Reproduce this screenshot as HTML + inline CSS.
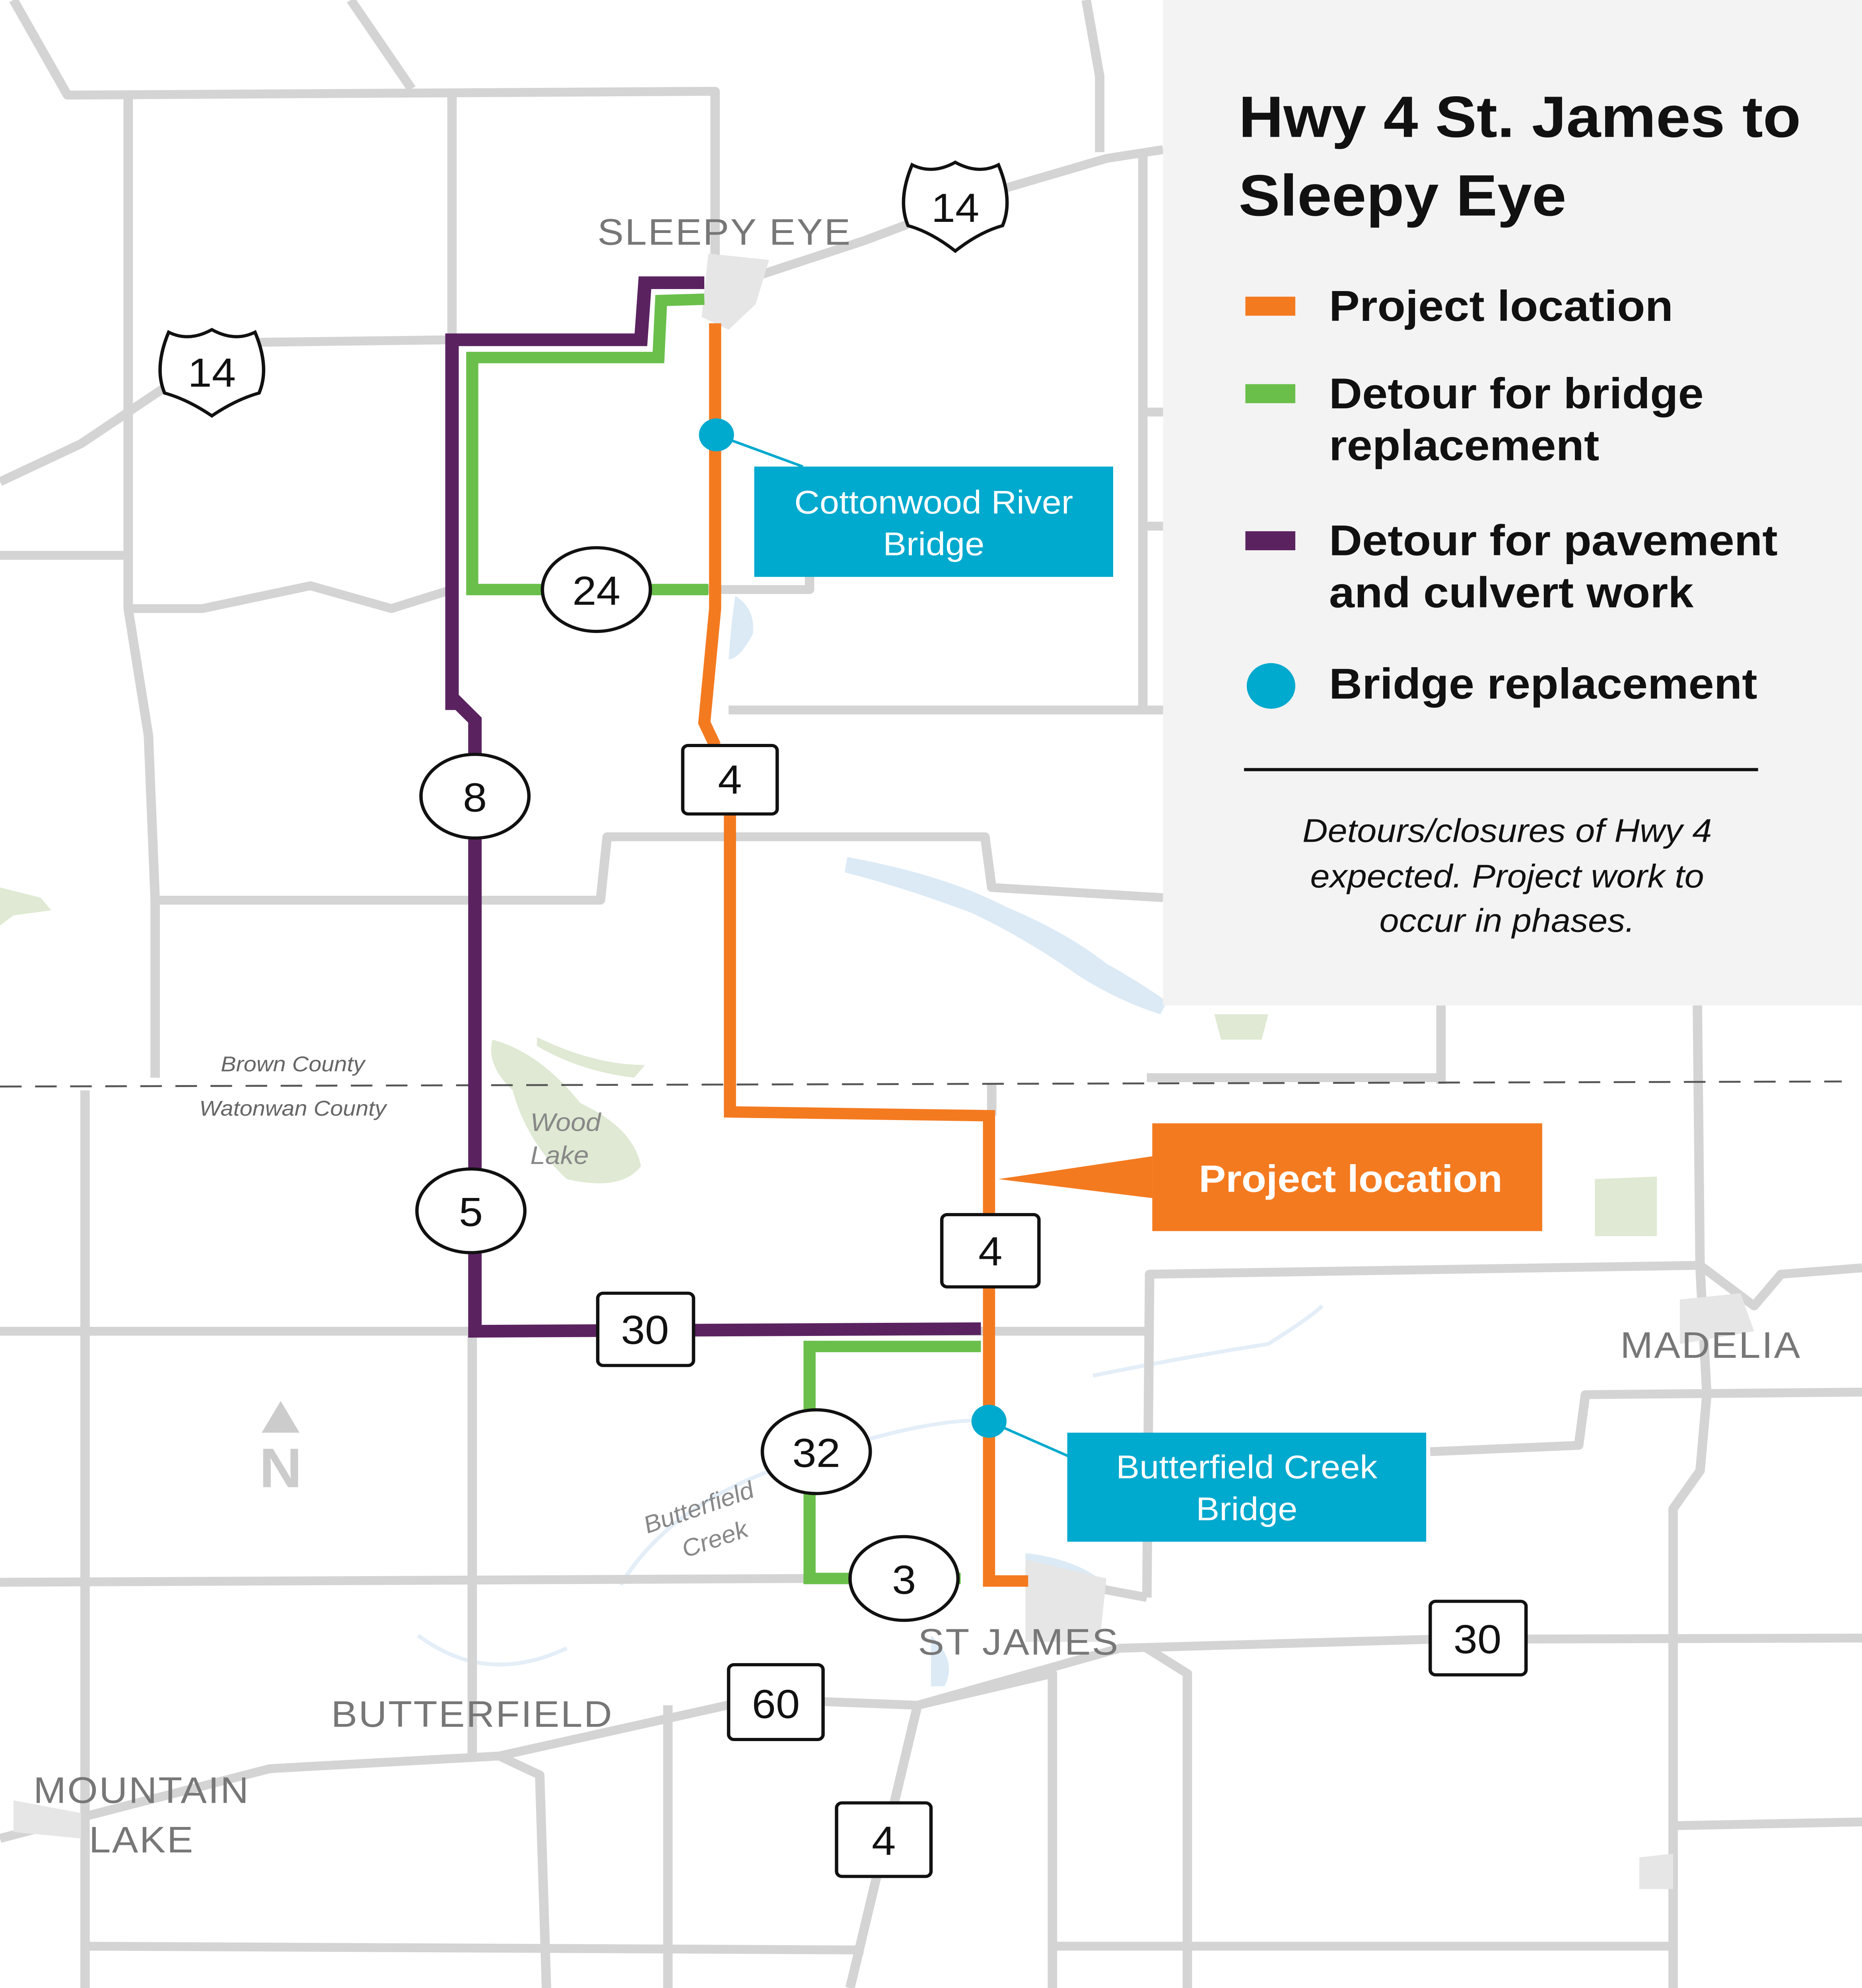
<!DOCTYPE html>
<html><head><meta charset="utf-8"><style>
html,body{margin:0;padding:0;background:#fff;overflow:hidden}
svg{display:block;position:absolute;left:0;top:0;width:100vw;height:100vh}
text{font-family:"Liberation Sans",sans-serif}
</style></head><body>
<svg viewBox="0 0 1380 1568" preserveAspectRatio="none" xmlns="http://www.w3.org/2000/svg">
<rect width="1380" height="1568" fill="#fff"/>
<g fill="#dbeaf5">
<path d="M628,676 Q700,690 745,715 Q790,735 820,760 Q845,775 865,790 L860,800 Q830,790 800,770 Q760,740 720,720 Q670,700 626,688Z"/>
<path d="M545,470 Q560,480 558,500 Q548,520 540,520 Q542,490 545,470Z"/>
<path d="M760,1225 Q800,1230 820,1250 L800,1270 Q770,1260 760,1245Z"/>
<path d="M690,1290 Q710,1310 700,1330 L690,1330Z"/>
</g>
<g fill="none" stroke="#e3eef8" stroke-width="3">
<path d="M460,1250 Q500,1180 600,1150 Q680,1120 730,1120"/>
<path d="M810,1085 Q880,1070 940,1060 Q970,1040 980,1030"/>
<path d="M310,1290 Q360,1330 420,1300"/>
</g>
<g fill="#dfe9d3">
<path d="M365,820 Q400,830 430,870 Q470,890 475,920 Q460,940 420,930 Q390,900 380,860 Q360,840 365,820Z"/>
<path d="M398,818 Q440,840 478,840 L470,850 Q430,845 398,825Z"/>
<path d="M1182,930 L1228,928 L1228,975 L1182,975Z"/>
<path d="M0,700 L30,708 L38,718 L10,722 L0,730Z"/>
<path d="M900,800 L940,800 L935,820 L905,820Z"/>
</g>
<g fill="none" stroke="#d4d4d4" stroke-width="7" stroke-linejoin="round">
<path d="M10,0 L50,75 L530,72 L530,230"/>
<path d="M260,0 L305,70"/>
<path d="M335,75 L335,560"/>
<path d="M95,78 L95,480 L110,580 L115,710 L115,850"/>
<path d="M0,380 L60,350 L130,300 L190,270 L335,268"/>
<path d="M0,438 L95,438"/>
<path d="M95,480 L150,480 L230,462 L290,480 L335,465"/>
<path d="M115,710 L445,710 L450,660 L730,660 L735,700 L862,708"/>
<path d="M805,0 L815,60 L815,120"/>
<path d="M540,225 L640,190 L740,150 L820,125 L862,118"/>
<path d="M847,120 L847,560"/>
<path d="M540,560 L862,560"/>
<path d="M525,465 L600,465 L600,455"/>
<path d="M847,325 L862,325 M847,415 L862,415"/>
<path d="M0,1050 L850,1050"/>
<path d="M850,1260 L852,1005 L1260,998 L1300,1030 L1320,1005 L1380,1000"/>
<path d="M1068,793 L1068,855"/>
<path d="M1258,793 L1260,1000 L1265,1100 L1260,1160 L1240,1190 L1240,1568"/>
<path d="M1060,1145 L1170,1140 L1175,1100 L1380,1098"/>
<path d="M0,1248 L600,1245"/>
<path d="M60,1535 L640,1538 M780,1535 L1240,1535"/>
<path d="M63,860 L63,1568"/>
<path d="M350,1050 L350,1385"/>
<path d="M0,1450 L200,1395 L370,1385 L560,1340 L680,1345 L830,1300 L1060,1293 L1380,1292"/>
<path d="M370,1385 L400,1400 L405,1568"/>
<path d="M495,1345 L495,1568"/>
<path d="M680,1345 L630,1568"/>
<path d="M680,1345 L780,1320 L780,1568"/>
<path d="M850,1300 L880,1320 L880,1568"/>
<path d="M1240,1440 L1380,1437"/>
<path d="M735,855 L735,880 M850,850 L1070,850"/>
<path d="M850,1260 L800,1250"/>
</g>
<g fill="#e6e6e6"><path d="M525,200 L570,205 L560,240 L540,260 L520,250Z"/><path d="M760,1230 L820,1245 L815,1295 L760,1295Z"/><path d="M1245,1025 L1290,1020 L1300,1050 L1245,1060Z"/><path d="M1215,1465 L1240,1462 L1240,1490 L1215,1490Z"/><path d="M10,1420 L60,1430 L60,1450 L10,1445Z"/></g>
<line x1="0" y1="857" x2="1365" y2="853" stroke="#555" stroke-width="1.5" stroke-dasharray="16,10"/>
<text x="217" y="845" font-size="17" font-style="italic" fill="#666" text-anchor="middle">Brown County</text>
<text x="217" y="880" font-size="17" font-style="italic" fill="#666" text-anchor="middle">Watonwan County</text>
<text x="393" y="892" font-size="20" font-style="italic" fill="#888">Wood</text>
<text x="393" y="918" font-size="20" font-style="italic" fill="#888">Lake</text>
<text x="520" y="1195" font-size="19" font-style="italic" fill="#888" text-anchor="middle" transform="rotate(-20 520 1195)">Butterfield</text>
<text x="532" y="1220" font-size="19" font-style="italic" fill="#888" text-anchor="middle" transform="rotate(-20 532 1220)">Creek</text>
<g fill="none" stroke-linejoin="miter" stroke-linecap="butt">
<path d="M335,560 L335,268 L475,268 L478,223 L522,223" stroke="#5a2360" stroke-width="10"/>
<path d="M335,550 L352,568 L352,1050 L727,1048" stroke="#5a2360" stroke-width="10"/>
<path d="M522,236 L490,237 L488,282 L350,282 L350,465 L525,465" stroke="#6abf4b" stroke-width="9"/>
<path d="M727,1062 L600,1062 L600,1245 L712,1245" stroke="#6abf4b" stroke-width="9"/>
<path d="M530,255 L530,480 L522,570 L530,588" stroke="#f47a20" stroke-width="9"/>
<path d="M541,642 L541,877 L733,880 L733,1247 L762,1247" stroke="#f47a20" stroke-width="9"/>
</g>
<g fill="#fff" stroke="#111" stroke-width="2.5">
<ellipse cx="442" cy="465" rx="40" ry="33"/>
<ellipse cx="352" cy="628" rx="40" ry="33"/>
<ellipse cx="349" cy="955" rx="40" ry="33"/>
<ellipse cx="605" cy="1145" rx="40" ry="33"/>
<ellipse cx="670" cy="1245" rx="40" ry="33"/>
<rect x="506" y="588" width="70" height="54" rx="4"/>
<rect x="698" y="958" width="72" height="57" rx="4"/>
<rect x="443" y="1020" width="71" height="57" rx="4"/>
<rect x="540" y="1313" width="70" height="59" rx="4"/>
<rect x="620" y="1422" width="70" height="58" rx="4"/>
<rect x="1060" y="1263" width="71" height="58" rx="4"/>
<path d="M125,262 Q140,270 157,260 Q174,270 189,262 Q200,290 192,310 Q175,315 157,328 Q139,315 122,310 Q114,290 125,262Z"/>
<path d="M676,130 Q691,138 708,128 Q725,138 740,130 Q751,158 743,178 Q726,183 708,198 Q690,183 673,178 Q665,158 676,130Z"/>
</g>
<g font-size="32" fill="#111" text-anchor="middle">
<text x="442" y="477">24</text><text x="352" y="640">8</text><text x="349" y="967">5</text>
<text x="605" y="1157">32</text><text x="670" y="1257">3</text><text x="541" y="626">4</text>
<text x="734" y="998">4</text><text x="478" y="1060">30</text><text x="575" y="1355">60</text>
<text x="655" y="1463">4</text><text x="1095" y="1304">30</text>
<text x="157" y="305">14</text><text x="708" y="175">14</text>
</g>
<g font-size="29" fill="#777" letter-spacing="1" text-anchor="middle">
<text x="537" y="193">SLEEPY EYE</text><text x="1268" y="1071">MADELIA</text>
<text x="755" y="1305">ST JAMES</text><text x="350" y="1362">BUTTERFIELD</text>
<text x="105" y="1422">MOUNTAIN</text><text x="105" y="1461">LAKE</text>
</g>
<path d="M208,1105 L222,1130 L194,1130Z" fill="#ccc"/>
<text x="208" y="1173" font-size="44" font-weight="bold" fill="#ccc" text-anchor="middle">N</text>
<g stroke="#00a9ce" stroke-width="2"><line x1="531" y1="343" x2="595" y2="368"/><line x1="733" y1="1121" x2="795" y2="1150"/></g>
<circle cx="531" cy="343" r="13" fill="#00a9ce"/><circle cx="733" cy="1121" r="13" fill="#00a9ce"/>
<rect x="559" y="368" width="266" height="87" fill="#00a9ce"/>
<rect x="791" y="1130" width="266" height="86" fill="#00a9ce"/>
<g font-size="26" fill="#fff" text-anchor="middle">
<text x="692" y="405">Cottonwood River</text><text x="692" y="438">Bridge</text>
<text x="924" y="1166">Butterfield Creek</text><text x="924" y="1199">Bridge</text>
</g>
<path d="M854,912 L740,930 L854,945Z" fill="#f47a20"/>
<rect x="854" y="886" width="289" height="85" fill="#f47a20"/>
<text x="1001" y="940" font-size="30" font-weight="bold" fill="#fff" text-anchor="middle">Project location</text>
<rect x="862" y="0" width="518" height="793" fill="#f3f3f3"/>
<g font-weight="bold" fill="#111">
<text x="918" y="108" font-size="46">Hwy 4 St. James to</text>
<text x="918" y="170" font-size="46">Sleepy Eye</text>
<g font-size="34">
<text x="985" y="253">Project location</text>
<text x="985" y="322">Detour for bridge</text><text x="985" y="363">replacement</text>
<text x="985" y="438">Detour for pavement</text><text x="985" y="479">and culvert work</text>
<text x="985" y="551">Bridge replacement</text>
</g></g>
<rect x="923" y="234" width="37" height="15" fill="#f47a20"/>
<rect x="923" y="303" width="37" height="15" fill="#6abf4b"/>
<rect x="923" y="419" width="37" height="15" fill="#5a2360"/>
<circle cx="942" cy="541" r="18" fill="#00a9ce"/>
<line x1="922" y1="607" x2="1303" y2="607" stroke="#111" stroke-width="2.5"/>
<g font-size="26" font-style="italic" fill="#111" text-anchor="middle">
<text x="1117" y="664">Detours/closures of Hwy 4</text>
<text x="1117" y="700">expected. Project work to</text>
<text x="1117" y="735">occur in phases.</text>
</g>
</svg>
</body></html>
